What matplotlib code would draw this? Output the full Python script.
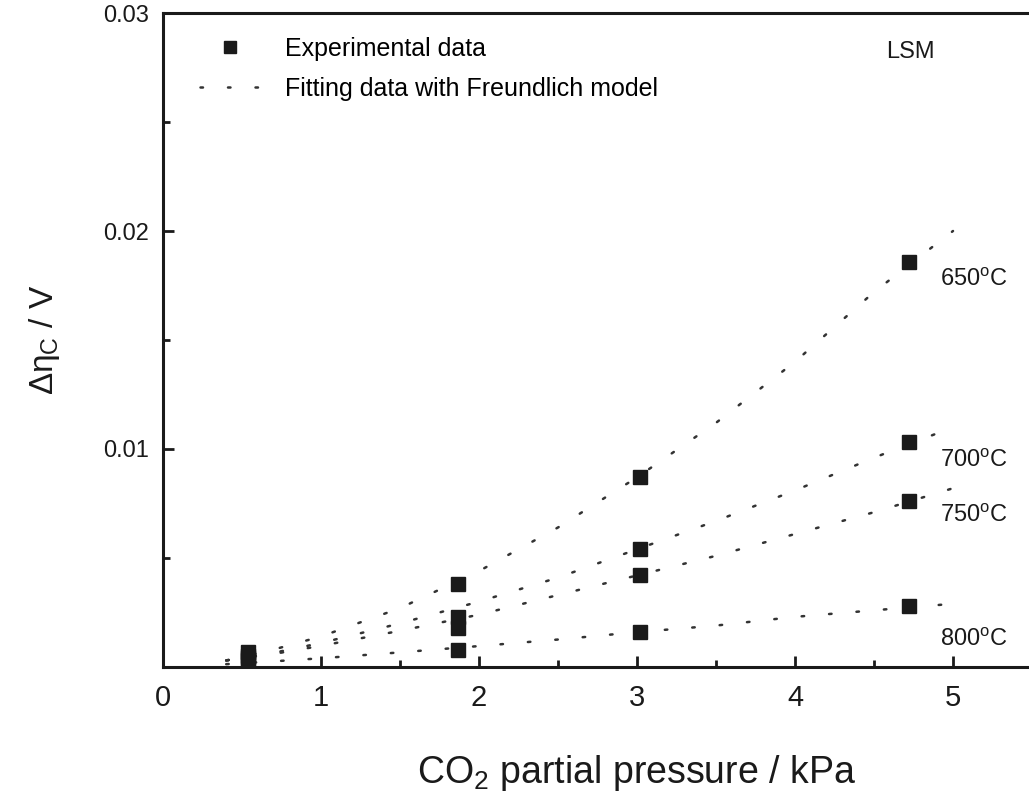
import matplotlib
matplotlib.use("Agg")
import matplotlib.pyplot as plt
from matplotlib.lines import Line2D
from matplotlib.ticker import MultipleLocator, FixedLocator

plt.rcParams["font.family"] = ["Liberation Sans", "DejaVu Sans"]
plt.rcParams["mathtext.fontset"] = "custom"
plt.rcParams["mathtext.rm"] = "Liberation Sans"
plt.rcParams["mathtext.it"] = "Liberation Sans"

# ====== data ======
temps = ["650", "700", "750", "800"]

# experimental points (CO2 partial pressure / kPa)
exp_x = [0.54, 1.87, 3.02, 4.72]
exp_650 = [0.0007, 0.0038, 0.0087, 0.0186]
exp_700 = [0.0005, 0.0023, 0.0054, 0.0103]
exp_750 = [0.0004, 0.0018, 0.0042, 0.0076]
exp_800 = [0.0003, 0.0008, 0.0016, 0.0028]

# Freundlich fitting curves (read at these pressures)
fit_x = [0.4, 0.7, 1.0, 1.5, 2.0, 2.5, 3.0, 3.5, 4.0, 4.5, 5.0]
fit_650 = [0.0003, 0.0008, 0.0014, 0.0027, 0.0044, 0.0064, 0.0087, 0.0112, 0.0140, 0.0172, 0.0200]
fit_700 = [0.0003, 0.00065, 0.0011, 0.0020, 0.0030, 0.0041, 0.0054, 0.0067, 0.0081, 0.0096, 0.0110]
fit_750 = [0.0003, 0.0006, 0.00097, 0.00166, 0.0024, 0.0033, 0.0042, 0.0051, 0.0061, 0.0071, 0.0082]
fit_800 = [0.00013, 0.00026, 0.0004, 0.00067, 0.00096, 0.00126, 0.0016, 0.0019, 0.0023, 0.0026, 0.0029]

# label positions for temperature tags
tag_y = [0.01775, 0.00945, 0.00693, 0.00124]

exp_all = [exp_650, exp_700, exp_750, exp_800]
fit_all = [fit_650, fit_700, fit_750, fit_800]

ink = "#1a1a1a"

fig = plt.figure(figsize=(10.29, 7.93), dpi=100)
# the frame runs past the right edge of the picture
ax = fig.add_axes([0.1584, 0.1589, 0.9213, 0.8247])

for ys_fit, ys_exp in zip(fit_all, exp_all):
    ax.plot(fit_x, ys_fit, color="#333333", lw=1.8, linestyle=(0, (1, 10)),
            dash_capstyle="round", clip_on=False)
    ax.plot(exp_x, ys_exp, "s", color=ink, ms=10, clip_on=False)

for t, ty in zip(temps, tag_y):
    ax.text(4.92, ty, t + r"$^\mathregular{o}$C", fontsize=17, color=ink,
            ha="left", va="center")

ax.text(4.73, 0.0282, "LSM", fontsize=17, color=ink, ha="center", va="center")

ax.set_xlim(0, 6)
ax.set_ylim(0, 0.03)
ax.xaxis.set_major_locator(FixedLocator([0, 1, 2, 3, 4, 5]))
ax.xaxis.set_minor_locator(MultipleLocator(0.5))
ax.yaxis.set_major_locator(FixedLocator([0.01, 0.02, 0.03]))
ax.yaxis.set_minor_locator(MultipleLocator(0.005))
ax.set_yticklabels(["0.01", "0.02", "0.03"])

ax.tick_params(axis="both", which="both", direction="in", color=ink, width=2)
ax.tick_params(axis="both", which="major", length=8)
ax.tick_params(axis="both", which="minor", length=5)
ax.tick_params(axis="x", labelsize=21, pad=12, labelcolor=ink)
ax.tick_params(axis="y", labelsize=17, pad=10, labelcolor=ink)

for side in ["left", "bottom", "top"]:
    ax.spines[side].set_linewidth(2.2)
    ax.spines[side].set_color(ink)
ax.spines["right"].set_visible(False)

ax.set_xlabel(r"CO$_2$ partial pressure / kPa", fontsize=27, color=ink, labelpad=30)
ax.set_ylabel(r"$\Delta\eta_\mathregular{C}$ / V", fontsize=24, color=ink, labelpad=30)

handles = [
    Line2D([], [], marker="s", color=ink, ls="none", ms=9),
    Line2D([], [], color="#333333", lw=1.8, linestyle=(0, (1, 10)), dash_capstyle="round"),
]
ax.legend(handles, ["Experimental data", "Fitting data with Freundlich model"],
          loc="upper left", bbox_to_anchor=(0.039, 0.964), frameon=False,
          borderpad=0, borderaxespad=0,
          fontsize=18, handlelength=2.4, handletextpad=1.0, labelspacing=0.65)

fig.savefig("out.png", dpi=100)
